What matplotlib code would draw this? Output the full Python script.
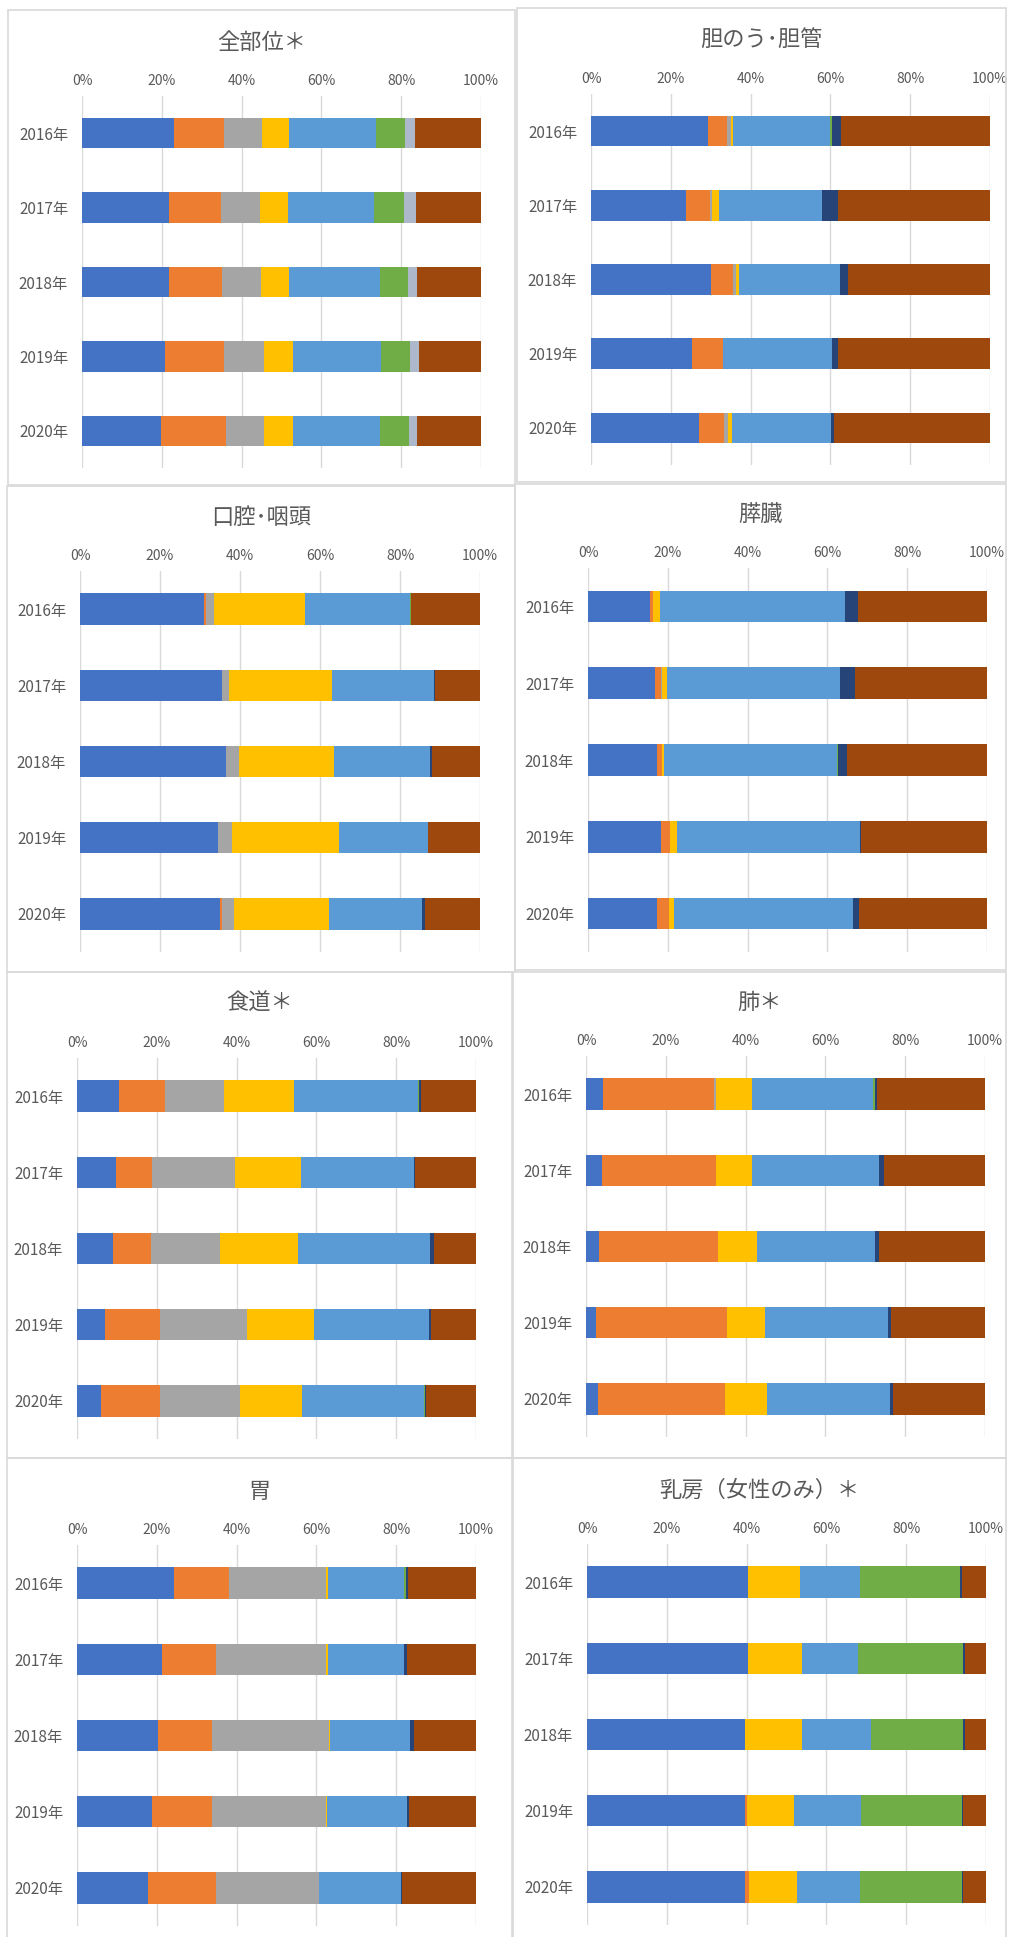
import numpy as np
import matplotlib
matplotlib.use('Agg')
from matplotlib import pyplot as plt
from matplotlib.patches import Rectangle

plt.rcParams['font.family'] = ['Noto Sans CJK JP', 'DejaVu Sans']

years = ['2016年', '2017年', '2018年', '2019年', '2020年']
ticks = [0, 20, 40, 60, 80, 100]
tick_labels = ['0%', '20%', '40%', '60%', '80%', '100%']

# each row = one year, columns = the 8 stacked series (percent)
zenbui = [
    [23.0, 12.5, 9.7, 6.8, 21.6, 7.3, 2.5, 16.6],
    [21.7, 13.1, 9.8, 7.1, 21.5, 7.5, 3.0, 16.3],
    [21.7, 13.3, 9.8, 7.2, 22.7, 6.9, 2.4, 16.0],
    [20.7, 14.8, 10.1, 7.2, 22.2, 7.3, 2.1, 15.6],
    [19.9, 16.1, 9.6, 7.2, 21.9, 7.2, 2.1, 16.0],
]
tannou = [
    [29.4, 4.7, 1.0, 0.6, 24.2, 0.5, 2.3, 37.3],
    [23.9, 5.8, 0.6, 1.8, 25.9, 0.0, 4.0, 38.0],
    [30.0, 5.6, 0.7, 0.8, 25.3, 0.0, 1.9, 35.7],
    [25.3, 7.8, 0.0, 0.0, 27.3, 0.0, 1.6, 38.0],
    [27.0, 6.4, 1.0, 0.9, 24.8, 0.0, 0.8, 39.1],
]
koukuu = [
    [31.0, 0.4, 2.2, 22.6, 26.2, 0.4, 0.0, 17.2],
    [35.5, 0.0, 1.8, 25.7, 25.6, 0.0, 0.2, 11.2],
    [36.6, 0.0, 3.2, 23.8, 24.0, 0.0, 0.3, 12.1],
    [34.6, 0.0, 3.4, 26.7, 22.2, 0.0, 0.2, 12.9],
    [35.0, 0.5, 3.1, 23.7, 23.3, 0.0, 0.6, 13.8],
]
suizou = [
    [15.5, 0.9, 0.0, 1.7, 46.3, 0.0, 3.2, 32.4],
    [16.8, 1.4, 0.3, 1.4, 43.2, 0.0, 3.8, 33.1],
    [17.2, 1.3, 0.0, 0.6, 43.3, 0.3, 2.2, 35.1],
    [18.2, 2.3, 0.0, 1.7, 46.0, 0.0, 0.2, 31.6],
    [17.2, 3.0, 0.0, 1.4, 44.8, 0.0, 1.6, 32.0],
]
shokudou = [
    [10.5, 11.6, 14.8, 17.5, 31.0, 0.3, 0.4, 13.9],
    [9.8, 9.1, 20.6, 16.7, 28.3, 0.0, 0.3, 15.2],
    [8.9, 9.7, 17.3, 19.5, 33.1, 0.0, 0.9, 10.6],
    [7.0, 13.7, 21.9, 16.8, 28.8, 0.0, 0.5, 11.3],
    [6.0, 14.7, 20.2, 15.5, 30.5, 0.2, 0.3, 12.6],
]
hai = [
    [4.3, 27.9, 0.4, 9.1, 30.3, 0.4, 0.6, 27.0],
    [4.0, 28.6, 0.0, 9.1, 31.8, 0.0, 1.2, 25.3],
    [3.3, 29.9, 0.0, 9.6, 29.7, 0.0, 0.9, 26.6],
    [2.6, 32.7, 0.0, 9.5, 31.0, 0.0, 0.7, 23.5],
    [2.9, 32.0, 0.0, 10.5, 30.8, 0.0, 0.8, 23.0],
]
i_ = [
    [24.3, 13.9, 24.3, 0.4, 19.1, 0.4, 0.5, 17.1],
    [21.3, 13.5, 27.7, 0.4, 19.1, 0.0, 0.8, 17.2],
    [20.4, 13.4, 29.4, 0.3, 19.9, 0.0, 1.0, 15.6],
    [18.9, 15.0, 28.4, 0.3, 20.2, 0.0, 0.3, 16.9],
    [17.9, 16.9, 25.9, 0.0, 20.4, 0.0, 0.3, 18.6],
]
nyuubou = [
    [40.4, 0.0, 0.0, 13.1, 14.8, 25.3, 0.3, 6.1],
    [40.4, 0.0, 0.0, 13.5, 14.1, 26.3, 0.4, 5.3],
    [39.7, 0.0, 0.0, 14.2, 17.2, 23.2, 0.4, 5.3],
    [39.7, 0.3, 0.0, 11.9, 16.8, 25.3, 0.2, 5.8],
    [39.7, 0.8, 0.0, 12.1, 15.7, 25.6, 0.3, 5.8],
]

colors = ['#4472C4', '#ED7D31', '#A5A5A5', '#FFC000',
          '#5B9BD5', '#70AD47', '#264478', '#9E480E']
colors_first = colors[:6] + ['#ADB9CA'] + colors[7:]

W, H = 1013, 1937
fig = plt.figure(figsize=(W / 100, H / 100), dpi=100)

# title, data, box (l, t, r, b), axes (l, t, w, h), title y, colors
panels = [
    ('全部位＊', zenbui, (8, 10, 515, 485), (82, 96, 399, 372), 42, colors_first),
    ('胆のう･胆管', tannou, (517, 8, 1006, 482), (591, 94, 399, 371), 40, colors),
    ('口腔･咽頭', koukuu, (7, 486, 515, 972), (80, 571, 400, 381), 517, colors),
    ('膵臓', suizou, (515, 484, 1006, 970), (588, 568, 399, 384), 514, colors),
    ('食道＊', shokudou, (7, 972, 512, 1458), (77, 1058, 399, 381), 1003, colors),
    ('肺＊', hai, (513, 972, 1006, 1458), (586, 1056, 399, 381), 1002, colors),
    ('胃', i_, (7, 1458, 512, 1950), (77, 1545, 399, 381), 1491, colors),
    ('乳房（女性のみ）＊', nyuubou, (513, 1458, 1006, 1950), (587, 1544, 399, 381), 1490, colors),
]

grey_text = '#595959'

for title, data, box, axpos, ty, cols in panels:
    bl, bt, br, bb = box
    fig.patches.append(Rectangle((bl / W, 1 - bb / H), (br - bl) / W, (bb - bt) / H,
                                 transform=fig.transFigure, fill=False,
                                 edgecolor='#D9D9D9', linewidth=1.2))
    fig.text((bl + br) / 2 / W, 1 - ty / H, title, ha='center', va='center',
             fontsize=16, color=grey_text)

    l, t, w, h = axpos
    ax = fig.add_axes([l / W, 1 - (t + h) / H, w / W, h / H])
    arr = np.array(data)
    y = np.arange(len(years))
    left = np.zeros(len(years))
    for k in range(arr.shape[1]):
        ax.barh(y, arr[:, k], left=left, height=0.41, color=cols[k],
                edgecolor='none', zorder=3)
        left += arr[:, k]

    ax.set_xlim(0, 100)
    ax.set_ylim(len(years) - 0.5, -0.5)
    ax.set_xticks(ticks)
    ax.set_xticklabels(tick_labels)
    ax.set_yticks(y)
    ax.set_yticklabels(years)
    ax.xaxis.tick_top()
    ax.tick_params(axis='x', length=0, pad=6, labelsize=10, labelcolor=grey_text)
    ax.tick_params(axis='y', length=0, pad=10, labelsize=11, labelcolor=grey_text)
    ax.grid(axis='x', color='#D9D9D9', linewidth=1, zorder=0)
    ax.set_axisbelow(True)
    for s in ax.spines.values():
        s.set_visible(False)

fig.savefig('out.png', dpi=100)
